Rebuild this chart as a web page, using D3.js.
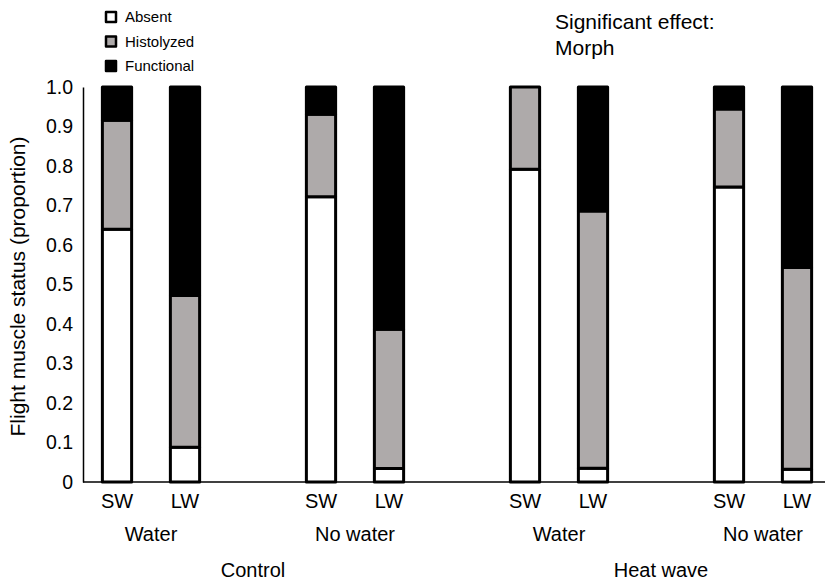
<!DOCTYPE html>
<html>
<head>
<meta charset="utf-8">
<script src="https://cdn.jsdelivr.net/npm/d3@7"></script>
<style>
  body { margin: 0; background: #fff; }
  text { font-family: "Liberation Sans", Arial, sans-serif; fill: #000; }
</style>
</head>
<body>
<svg id="chart"></svg>
<script>
// chart values
const morphs = ["SW", "LW", "SW", "LW", "SW", "LW", "SW", "LW"];
const waterLabels = ["Water", "No water", "Water", "No water"];
const treatments = ["Control", "Heat wave"];
const statuses = ["Absent", "Histolyzed", "Functional"];
const absent = [0.640, 0.088, 0.722, 0.034, 0.792, 0.035, 0.747, 0.032];
const histolyzed = [0.276, 0.384, 0.209, 0.353, 0.208, 0.651, 0.197, 0.511];
const functional = [0.084, 0.528, 0.069, 0.613, 0.000, 0.314, 0.056, 0.457];
const yTicks = [0, 0.1, 0.2, 0.3, 0.4, 0.5, 0.6, 0.7, 0.8, 0.9, 1.0];
// which of the 11 slots hold a bar (the others are gaps between water groups)
const barSlots = [0, 1, 3, 4, 6, 7, 9, 10];

const width = 825, height = 580;
const plotLeft = 83, plotBottom = 482, plotTop = 87;

const svg = d3.select("#chart")
  .attr("width", width)
  .attr("height", height);

const x = d3.scaleBand()
  .domain(d3.range(11))
  .range([plotLeft, plotLeft + 748])
  .paddingInner(0.57)
  .paddingOuter(0.285);

const y = d3.scaleLinear()
  .domain([0, 1])
  .range([plotBottom, plotTop]);

const color = d3.scaleOrdinal()
  .domain(statuses)
  .range(["#ffffff", "#aeaaaa", "#000000"]);

// stacked data
const rows = morphs.map((m, i) => ({
  slot: barSlots[i],
  Absent: absent[i],
  Histolyzed: histolyzed[i],
  Functional: functional[i]
}));
const stacked = d3.stack().keys(statuses)(rows);

// y axis
const yAxis = d3.axisLeft(y)
  .tickValues(yTicks)
  .tickSize(0)
  .tickPadding(10)
  .tickFormat(d => d === 0 ? "0" : d3.format(".1f")(d));

const yg = svg.append("g")
  .attr("transform", `translate(${plotLeft},0)`)
  .call(yAxis);
yg.select(".domain").attr("stroke", "#000").attr("stroke-width", 1.5);
yg.selectAll("text")
  .style("font-family", "'Liberation Sans', Arial, sans-serif")
  .style("font-size", "19.5px")
  .attr("fill", "#000");

// x axis line
svg.append("line")
  .attr("x1", plotLeft).attr("x2", width)
  .attr("y1", plotBottom).attr("y2", plotBottom)
  .attr("stroke", "#000")
  .attr("stroke-width", 1.5);

// bars
svg.selectAll(".layer")
  .data(stacked)
  .enter()
  .append("g")
  .attr("class", "layer")
  .attr("fill", d => color(d.key))
  .selectAll("rect")
  .data(d => d.filter(s => s[1] - s[0] > 0))
  .enter()
  .append("rect")
  .attr("x", d => x(d.data.slot))
  .attr("y", d => y(d[1]))
  .attr("width", x.bandwidth())
  .attr("height", d => y(d[0]) - y(d[1]))
  .attr("stroke", "#000")
  .attr("stroke-width", 3)
  .attr("stroke-linejoin", "round");

// morph labels
svg.selectAll(".morph")
  .data(morphs)
  .enter()
  .append("text")
  .attr("class", "morph")
  .attr("x", (d, i) => x(barSlots[i]) + x.bandwidth() / 2)
  .attr("y", 508)
  .attr("text-anchor", "middle")
  .style("font-size", "20px")
  .text(d => d);

// water labels
svg.selectAll(".water")
  .data(waterLabels)
  .enter()
  .append("text")
  .attr("class", "water")
  .attr("x", (d, i) => (x(barSlots[2 * i]) + x(barSlots[2 * i + 1]) + x.bandwidth()) / 2)
  .attr("y", 541)
  .attr("text-anchor", "middle")
  .style("font-size", "20px")
  .text(d => d);

// treatment labels
svg.selectAll(".treatment")
  .data(treatments)
  .enter()
  .append("text")
  .attr("class", "treatment")
  .attr("x", (d, i) => (x(barSlots[4 * i + 1]) + x(barSlots[4 * i + 2]) + x.bandwidth()) / 2)
  .attr("y", 577)
  .attr("text-anchor", "middle")
  .style("font-size", "20px")
  .text(d => d);

// y axis title
svg.append("text")
  .attr("transform", `translate(25,${(plotTop + plotBottom) / 2 + 2}) rotate(-90)`)
  .attr("text-anchor", "middle")
  .style("font-size", "21px")
  .text("Flight muscle status (proportion)");

// legend
const legend = svg.append("g").attr("transform", "translate(106,0)");
const legendRows = legend.selectAll("g")
  .data(statuses)
  .enter()
  .append("g")
  .attr("transform", (d, i) => `translate(0,${12 + i * 24.5})`);
legendRows.append("rect")
  .attr("width", 10).attr("height", 10)
  .attr("fill", d => color(d))
  .attr("stroke", "#000")
  .attr("stroke-width", 2.5)
  .attr("stroke-linejoin", "round");
legendRows.append("text")
  .attr("x", 19)
  .attr("y", 5)
  .attr("dy", "0.35em")
  .style("font-size", "15px")
  .text(d => d);

// annotation
const note = svg.append("text")
  .attr("x", 555)
  .attr("y", 29)
  .style("font-size", "21px");
note.append("tspan").attr("x", 555).text("Significant effect:");
note.append("tspan").attr("x", 555).attr("dy", 26).text("Morph");
</script>
</body>
</html>
